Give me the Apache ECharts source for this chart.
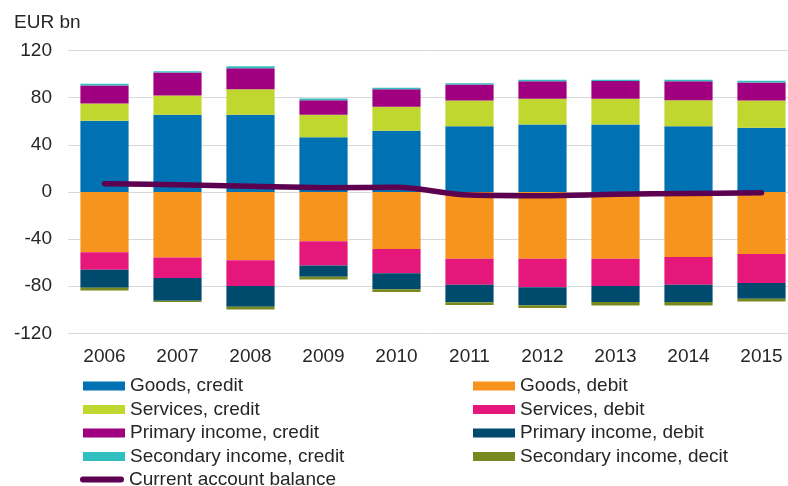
<!DOCTYPE html>
<html>
<head>
<meta charset="utf-8">
<script src="https://cdn.jsdelivr.net/npm/echarts@6/dist/echarts.min.js"></script>
<style>
  html, body { margin: 0; padding: 0; background: #ffffff; }
  #chart { width: 788px; height: 486px; }
</style>
</head>
<body>
<div id="chart"></div>
<script>
// Current account of Finland, EUR bn
const years = ['2006', '2007', '2008', '2009', '2010', '2011', '2012', '2013', '2014', '2015'];

const goodsCredit = [60.4, 65.4, 65.4, 46.4, 51.9, 55.8, 57.2, 57.2, 55.8, 54.4];
const servicesCredit = [14.7, 16.4, 21.7, 19.0, 20.4, 21.8, 21.8, 21.8, 22.0, 23.2];
const primaryIncomeCredit = [15.3, 19.5, 17.8, 12.4, 14.9, 13.6, 14.9, 15.1, 16.1, 15.3];
const secondaryIncomeCredit = [1.4, 1.0, 1.7, 1.4, 1.2, 1.1, 1.2, 1.1, 1.2, 1.4];

const goodsDebit = [-51.3, -55.6, -58.1, -41.8, -48.5, -56.7, -56.7, -56.7, -55.3, -52.8];
const servicesDebit = [-14.7, -17.5, -21.8, -20.6, -20.6, -22.0, -24.3, -23.2, -23.4, -24.6];
const primaryIncomeDebit = [-15.3, -19.2, -17.5, -9.6, -13.6, -15.0, -15.3, -13.6, -14.7, -13.2];
const secondaryIncomeDebit = [-2.3, -1.2, -2.3, -2.3, -2.3, -2.3, -2.3, -3.0, -3.0, -2.5];

const currentAccountBalance = [7.0, 6.1, 4.7, 3.6, 3.9, -2.7, -3.3, -2.1, -1.3, -0.7];

const yTicks = { min: -120, max: 120, step: 40 };

const FONT = '"Liberation Sans", Arial, sans-serif';
const TEXT = '#262626';

const C = {
  goodsCredit: '#0071b2',
  servicesCredit: '#c0d72f',
  primaryCredit: '#a0007f',
  secondaryCredit: '#33bfbf',
  goodsDebit: '#f7941e',
  servicesDebit: '#e5177b',
  primaryDebit: '#004a6e',
  secondaryDebit: '#788a1f',
  balance: '#5c0050'
};

function bar(name, data, color) {
  return {
    name: name,
    type: 'bar',
    stack: 'ca',
    data: data,
    barCategoryGap: '34%',
    itemStyle: { color: color },
    emphasis: { disabled: true }
  };
}

const legendText = { fontFamily: FONT, fontSize: 19, color: TEXT, lineHeight: 19 };

const chart = echarts.init(document.getElementById('chart'), null, { renderer: 'canvas' });

chart.setOption({
  animation: false,
  backgroundColor: '#ffffff',
  title: {
    text: 'EUR bn',
    left: 14,
    top: 13,
    padding: 0,
    textStyle: { fontFamily: FONT, fontSize: 19, fontWeight: 'normal', color: TEXT }
  },
  // plot area runs slightly past the right edge of the canvas
  grid: {
    left: 68, width: 730, top: 50.5, bottom: 152.7,
    containLabel: false, outerBoundsMode: 'none'
  },
  legend: [
    {
      orient: 'vertical', left: 83, top: 376.5, padding: 0, itemWidth: 42, itemHeight: 9, itemGap: 4.5,
      icon: 'rect', selectedMode: false, textStyle: legendText,
      data: ['Goods, credit', 'Services, credit', 'Primary income, credit', 'Secondary income, credit']
    },
    {
      orient: 'vertical', left: 473, top: 376.5, padding: 0, itemWidth: 42, itemHeight: 9, itemGap: 4.5,
      icon: 'rect', selectedMode: false, textStyle: legendText,
      data: ['Goods, debit', 'Services, debit', 'Primary income, debit', 'Secondary income, decit']
    },
    {
      orient: 'vertical', left: 80, top: 470, padding: 0, itemWidth: 44, itemHeight: 6,
      selectedMode: false, textStyle: legendText,
      data: [{
        name: 'Current account balance',
        icon: 'path://M3,0H41A3,3,0,0,1,41,6H3A3,3,0,0,1,3,0Z',
        itemStyle: { color: C.balance }
      }]
    }
  ],
  xAxis: {
    type: 'category',
    data: years,
    position: 'bottom',
    axisLine: { show: false, onZero: false },
    axisTick: { show: false },
    axisLabel: { fontFamily: FONT, fontSize: 19, color: TEXT, margin: 14 }
  },
  yAxis: {
    type: 'value',
    min: yTicks.min,
    max: yTicks.max,
    interval: yTicks.step,
    axisLine: { show: false },
    axisTick: { show: false },
    axisLabel: { fontFamily: FONT, fontSize: 19, color: TEXT, margin: 16 },
    splitLine: { lineStyle: { color: '#d9d9d9', width: 1 } }
  },
  series: [
    bar('Goods, credit', goodsCredit, C.goodsCredit),
    bar('Services, credit', servicesCredit, C.servicesCredit),
    bar('Primary income, credit', primaryIncomeCredit, C.primaryCredit),
    bar('Secondary income, credit', secondaryIncomeCredit, C.secondaryCredit),
    bar('Goods, debit', goodsDebit, C.goodsDebit),
    bar('Services, debit', servicesDebit, C.servicesDebit),
    bar('Primary income, debit', primaryIncomeDebit, C.primaryDebit),
    bar('Secondary income, decit', secondaryIncomeDebit, C.secondaryDebit),
    {
      name: 'Current account balance',
      type: 'line',
      data: currentAccountBalance,
      smooth: 0.35,
      symbol: 'none',
      z: 5,
      itemStyle: { color: C.balance },
      lineStyle: { color: C.balance, width: 5.5, cap: 'round', join: 'round' },
      emphasis: { disabled: true }
    }
  ]
});
</script>
</body>
</html>
